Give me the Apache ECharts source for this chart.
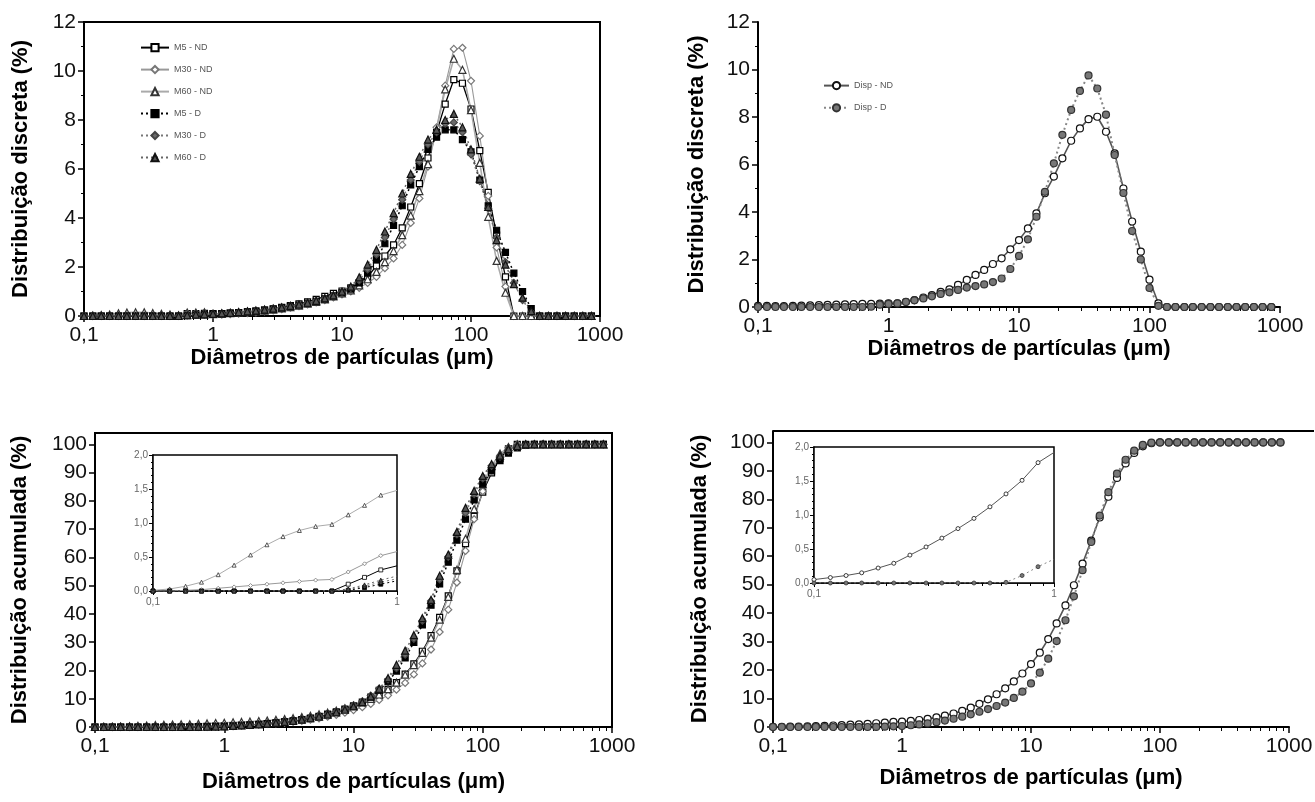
<!DOCTYPE html>
<html lang="pt">
<head>
<meta charset="utf-8">
<title>Distribuição granulométrica</title>
<script src="https://cdn.jsdelivr.net/npm/echarts@6.0.0/dist/echarts.min.js"></script>
<style>
  html, body { margin: 0; padding: 0; background: #fff; }
  #chart { width: 1315px; height: 802px; }
</style>
</head>
<body>
<div id="chart"></div>
<script>
// classes de diâmetro (µm), 15 por década
const diam = [
  0.1, 0.117, 0.136, 0.158, 0.185, 0.215, 0.251, 0.293, 0.341, 0.398,
  0.464, 0.541, 0.631, 0.736, 0.858, 1, 1.17, 1.36, 1.58, 1.85,
  2.15, 2.51, 2.93, 3.41, 3.98, 4.64, 5.41, 6.31, 7.36, 8.58,
  10, 11.7, 13.6, 15.8, 18.5, 21.5, 25.1, 29.3, 34.1, 39.8,
  46.4, 54.1, 63.1, 73.6, 85.8, 100, 117, 136, 158, 185,
  215, 251, 293, 341, 398, 464, 541, 631, 736, 858
];

// distribuição discreta (%) - amostras M
const m5nd = [
  0, 0, 0, 0, 0, 0, 0, 0, 0, 0,
  0, 0, 0.1, 0.1, 0.11, 0.10, 0.10, 0.12, 0.14, 0.17,
  0.2, 0.24, 0.29, 0.35, 0.42, 0.5, 0.58, 0.68, 0.8, 0.92,
  1.02, 1.15, 1.35, 1.6, 2.05, 2.45, 2.9, 3.6, 4.45, 5.4,
  6.45, 7.5, 8.65, 9.65, 9.5, 8.45, 6.75, 5.05, 3.3, 1.6,
  0, 0, 0, 0, 0, 0, 0, 0, 0, 0
];
const m30nd = [
  0, 0, 0.01, 0.01, 0.02, 0.02, 0.02, 0.02, 0.02, 0.02,
  0.02, 0.01, 0.11, 0.12, 0.12, 0.05, 0.06, 0.08, 0.1, 0.12,
  0.15, 0.19, 0.23, 0.28, 0.34, 0.4, 0.47, 0.55, 0.65, 0.76,
  0.88, 1.0, 1.15, 1.35, 1.6, 1.95, 2.35, 2.9, 3.8, 4.8,
  6.1, 7.7, 9.4, 10.9, 10.95, 9.6, 7.35, 4.9, 2.8, 1.2,
  0, 0, 0, 0, 0, 0, 0, 0, 0, 0
];
const m60nd = [
  0.01, 0.02, 0.04, 0.06, 0.11, 0.14, 0.15, 0.15, 0.12, 0.09,
  0.06, 0.03, 0.14, 0.14, 0.15, 0.08, 0.1, 0.12, 0.14, 0.16,
  0.19, 0.22, 0.26, 0.31, 0.36, 0.42, 0.5, 0.58, 0.68, 0.8,
  0.92, 1.05, 1.25, 1.5, 1.8, 2.2, 2.65, 3.3, 4.1, 5.1,
  6.2, 7.6, 9.25, 10.5, 10.05, 8.4, 6.25, 4.05, 2.25, 0.95,
  0, 0, 0, 0, 0, 0, 0, 0, 0, 0
];
const m5d = [
  0, 0, 0, 0, 0, 0, 0, 0, 0, 0,
  0, 0, 0.01, 0.04, 0.05, 0.08, 0.1, 0.12, 0.14, 0.17,
  0.2, 0.24, 0.28, 0.33, 0.39, 0.45, 0.52, 0.6, 0.7, 0.82,
  0.95, 1.1, 1.35, 1.75, 2.3, 2.95, 3.7, 4.5, 5.35, 6.1,
  6.8, 7.3, 7.6, 7.6, 7.2, 6.7, 5.55, 4.5, 3.5, 2.6,
  1.75, 1.0, 0.3, 0, 0, 0, 0, 0, 0, 0
];
const m30d = [
  0, 0, 0, 0, 0, 0, 0, 0, 0, 0,
  0, 0, 0.02, 0.05, 0.06, 0.08, 0.1, 0.12, 0.15, 0.18,
  0.21, 0.25, 0.3, 0.35, 0.41, 0.47, 0.54, 0.62, 0.72, 0.84,
  0.98, 1.15, 1.45, 1.9, 2.5, 3.2, 3.95, 4.75, 5.55, 6.3,
  7.0, 7.5, 7.85, 7.9, 7.5, 6.6, 5.5, 4.4, 3.2, 2.2,
  1.35, 0.65, 0.15, 0, 0, 0, 0, 0, 0, 0
];
const m60d = [
  0, 0, 0, 0, 0, 0, 0, 0, 0, 0,
  0, 0, 0.03, 0.06, 0.07, 0.09, 0.11, 0.13, 0.16, 0.19,
  0.22, 0.26, 0.3, 0.35, 0.41, 0.47, 0.54, 0.62, 0.72, 0.84,
  1.0, 1.2, 1.58, 2.1, 2.7, 3.45, 4.2, 5.0, 5.8, 6.5,
  7.2, 7.6, 8.0, 8.25, 7.7, 6.8, 5.6, 4.45, 3.1, 2.1,
  1.3, 0.75, 0.2, 0, 0, 0, 0, 0, 0, 0
];

// distribuição discreta (%) - Disp
const dispNd = [
  0.05, 0.05, 0.04, 0.04, 0.05, 0.06, 0.07, 0.08, 0.09, 0.1,
  0.11, 0.12, 0.13, 0.13, 0.14, 0.15, 0.15, 0.22, 0.29, 0.4,
  0.5, 0.64, 0.74, 0.93, 1.14, 1.35, 1.56, 1.81, 2.05, 2.43,
  2.82, 3.31, 3.94, 4.79, 5.49, 6.26, 7.0, 7.52, 7.91, 8.01,
  7.38, 6.47, 4.99, 3.6, 2.33, 1.15, 0.15, 0, 0, 0,
  0, 0, 0, 0, 0, 0, 0, 0, 0, 0
];
const dispD = [
  0, 0, 0, 0, 0, 0, 0, 0, 0, 0,
  0, 0, 0, 0.01, 0.1, 0.13, 0.15, 0.21, 0.28, 0.36,
  0.45, 0.55, 0.62, 0.72, 0.82, 0.88, 0.95, 1.05, 1.2, 1.6,
  2.15, 2.85, 3.8, 4.85, 6.05, 7.25, 8.3, 9.1, 9.75, 9.2,
  8.1, 6.4, 4.8, 3.2, 2.0, 0.8, 0.05, 0, 0, 0,
  0, 0, 0, 0, 0, 0, 0, 0, 0, 0
];

// distribuição acumulada (%) - amostras M
const m5ndAcc = [
  0, 0, 0, 0, 0, 0, 0, 0, 0, 0,
  0, 0, 0.1, 0.2, 0.31, 0.37, 0.52, 0.64, 0.78, 0.95,
  1.15, 1.4, 1.69, 2.04, 2.47, 2.98, 3.56, 4.25, 5.06, 5.99,
  7.02, 8.19, 9.56, 11.2, 13.3, 15.7, 18.7, 22.3, 26.8, 32.3,
  38.8, 46.4, 55.2, 64.9, 74.5, 83.1, 89.9, 95.0, 98.4, 100,
  100, 100, 100, 100, 100, 100, 100, 100, 100, 100
];
const m30ndAcc = [
  0, 0, 0.01, 0.02, 0.04, 0.06, 0.08, 0.1, 0.12, 0.14,
  0.16, 0.17, 0.28, 0.4, 0.52, 0.58, 0.65, 0.73, 0.83, 0.95,
  1.11, 1.3, 1.54, 1.82, 2.17, 2.58, 3.06, 3.63, 4.29, 5.07,
  5.97, 7.0, 8.17, 9.56, 11.2, 13.2, 15.6, 18.6, 22.5, 27.4,
  33.6, 41.5, 51.1, 62.3, 73.5, 83.4, 90.9, 95.9, 98.8, 100,
  100, 100, 100, 100, 100, 100, 100, 100, 100, 100
];
const m60ndAcc = [
  0.01, 0.03, 0.07, 0.13, 0.24, 0.38, 0.53, 0.68, 0.8, 0.89,
  0.95, 0.98, 1.12, 1.26, 1.41, 1.48, 1.66, 1.79, 1.93, 2.1,
  2.3, 2.53, 2.8, 3.12, 3.5, 3.94, 4.46, 5.07, 5.78, 6.61,
  7.58, 8.67, 9.98, 11.5, 13.4, 15.7, 18.5, 21.9, 26.2, 31.6,
  38.0, 46.0, 55.6, 66.6, 77.1, 85.9, 92.4, 96.7, 99.0, 100,
  100, 100, 100, 100, 100, 100, 100, 100, 100, 100
];
const m5dAcc = [
  0, 0, 0, 0, 0, 0, 0, 0, 0, 0,
  0, 0, 0.01, 0.05, 0.1, 0.15, 0.3, 0.45, 0.65, 0.88,
  1.18, 1.46, 1.8, 2.2, 2.66, 3.19, 3.81, 4.52, 5.36, 6.34,
  7.46, 8.84, 10.6, 13.0, 16.0, 19.8, 24.4, 29.9, 36.1, 43.1,
  50.6, 58.3, 66.1, 73.5, 80.3, 86.0, 90.6, 94.2, 96.9, 98.7,
  99.7, 100, 100, 100, 100, 100, 100, 100, 100, 100
];
const m30dAcc = [
  0, 0, 0, 0, 0, 0, 0, 0, 0, 0,
  0, 0, 0.02, 0.07, 0.13, 0.18, 0.33, 0.5, 0.7, 0.95,
  1.22, 1.52, 1.87, 2.28, 2.75, 3.29, 3.91, 4.63, 5.47, 6.5,
  7.7, 9.1, 11.1, 13.6, 16.8, 20.8, 25.6, 31.2, 37.6, 44.6,
  52.2, 60.2, 68.1, 75.7, 82.4, 87.9, 92.4, 95.6, 97.8, 99.2,
  99.8, 100, 100, 100, 100, 100, 100, 100, 100, 100
];
const m60dAcc = [
  0, 0, 0, 0, 0, 0, 0, 0, 0, 0,
  0, 0, 0.03, 0.09, 0.16, 0.22, 0.38, 0.54, 0.72, 0.92,
  1.17, 1.45, 1.78, 2.17, 2.6, 3.1, 3.7, 4.4, 5.2, 6.1,
  7.3, 8.8, 10.8, 13.5, 17.3, 22, 27, 32.5, 38.5, 45,
  53.5, 61, 69, 77.5, 83.5, 88.8, 93, 96, 98.3, 99.4,
  100, 100, 100, 100, 100, 100, 100, 100, 100, 100
];

// distribuição acumulada (%) - Disp
const dispNdAcc = [
  0.05, 0.08, 0.11, 0.15, 0.22, 0.29, 0.41, 0.53, 0.66, 0.8,
  0.95, 1.12, 1.31, 1.51, 1.77, 1.92, 2.17, 2.46, 2.86, 3.36,
  4.0, 4.74, 5.67, 6.81, 8.16, 9.72, 11.5, 13.6, 16.0, 18.8,
  22.1, 26.1, 30.9, 36.4, 42.7, 49.8, 57.4, 65.5, 73.6, 80.9,
  87.5, 92.6, 96.3, 98.6, 99.7, 100, 100, 100, 100, 100,
  100, 100, 100, 100, 100, 100, 100, 100, 100, 100
];
const dispDAcc = [
  0, 0, 0, 0, 0, 0, 0, 0, 0, 0,
  0, 0, 0.01, 0.11, 0.24, 0.35, 0.61, 0.89, 1.26, 1.71,
  2.27, 2.9, 3.63, 4.46, 5.35, 6.31, 7.37, 8.59, 10.2, 12.4,
  15.3, 19.1, 24.0, 30.2, 37.5, 45.9, 55.1, 65.0, 74.3, 82.5,
  89.0, 93.9, 97.1, 99.1, 99.9, 100, 100, 100, 100, 100,
  100, 100, 100, 100, 100, 100, 100, 100, 100, 100
];

// a inserção mostra só as classes de 0,1 a 1 µm
const nInset = 16;

const FONT = '"Liberation Sans", Arial, Helvetica, sans-serif';
const nomeX = 'Diâmetros de partículas (μm)';

const estilos = {
  'M5 - ND':   { symbol: 'rect',     size: 6, fill: '#fff', stroke: '#000', line: '#000', width: 1.3, type: 'solid' },
  'M30 - ND':  { symbol: 'diamond',  size: 7, fill: '#fff', stroke: '#777', line: '#999', width: 1.1, type: 'solid' },
  'M60 - ND':  { symbol: 'triangle', size: 7, fill: '#fff', stroke: '#333', line: '#aaa', width: 1.6, type: 'solid' },
  'M5 - D':    { symbol: 'rect',     size: 6, fill: '#000', stroke: '#000', line: '#000', width: 1.5, type: [2, 3] },
  'M30 - D':   { symbol: 'diamond',  size: 7, fill: '#6a6a6a', stroke: '#444', line: '#777', width: 1.5, type: [2, 3] },
  'M60 - D':   { symbol: 'triangle', size: 7, fill: '#555', stroke: '#111', line: '#666', width: 1.5, type: [2, 3] },
  'Disp - ND': { symbol: 'circle',   size: 7, fill: '#fff', stroke: '#111', line: '#555', width: 1.6, type: 'solid' },
  'Disp - D':  { symbol: 'circle',   size: 7, fill: '#777', stroke: '#333', line: '#888', width: 2, type: [2, 3] }
};

function linha(nome, valores, eixo, inset) {
  const s = estilos[nome];
  const n = inset ? nInset : diam.length;
  const data = [];
  for (let i = 0; i < n; i++) {
    const p = { value: [diam[i], valores[i]] };
    if (inset && i === n - 1) p.symbol = 'none';
    data.push(p);
  }
  return {
    type: 'line', name: nome, xAxisIndex: eixo, yAxisIndex: eixo,
    data: data,
    symbol: s.symbol,
    symbolSize: inset ? Math.round(s.size * 0.6) : s.size,
    showAllSymbol: true,
    itemStyle: { color: s.fill, borderColor: s.stroke, borderWidth: inset ? 0.8 : 1.2 },
    lineStyle: { color: s.line, width: inset ? 1 : s.width, type: s.type },
    emphasis: { disabled: true },
    z: inset ? 6 : 3,
    animation: false
  };
}

const fmtLog = v => String(+(+v).toFixed(3)).replace('.', ',');
const fmtDec = v => (+v).toFixed(1).replace('.', ',');

function eixoX(g, nameGap) {
  return {
    type: 'log', logBase: 10, gridIndex: g, min: 0.1, max: 1000,
    name: nomeX, nameLocation: 'middle', nameGap: nameGap,
    nameTextStyle: { fontFamily: FONT, fontSize: 22, fontWeight: 'bold', color: '#000' },
    axisLine: { onZero: false, lineStyle: { color: '#000', width: 2 } },
    axisTick: { length: 6, lineStyle: { color: '#000', width: 1.5 } },
    minorTick: { show: true, splitNumber: 9, length: 4, lineStyle: { color: '#000', width: 1 } },
    axisLabel: { fontFamily: FONT, fontSize: 21, color: '#111', margin: 9, formatter: fmtLog },
    splitLine: { show: false }
  };
}

function eixoY(g, nome, max, interval, nameGap, minor) {
  return {
    type: 'value', gridIndex: g, min: 0, max: max, interval: interval,
    name: nome, nameLocation: 'middle', nameGap: nameGap,
    nameTextStyle: { fontFamily: FONT, fontSize: 22, fontWeight: 'bold', color: '#000' },
    axisLine: { show: true, onZero: false, lineStyle: { color: '#000', width: 2 } },
    axisTick: { show: true, length: 6, lineStyle: { color: '#000', width: 1.5 } },
    minorTick: { show: minor > 0, splitNumber: minor || 2, length: 3, lineStyle: { color: '#000', width: 1 } },
    axisLabel: { fontFamily: FONT, fontSize: 21, color: '#111', margin: 8, showMaxLabel: max % interval === 0 },
    splitLine: { show: false }
  };
}

function insetX(g) {
  return {
    type: 'log', logBase: 10, gridIndex: g, min: 0.1, max: 1,
    axisLine: { onZero: false, lineStyle: { color: '#000', width: 1.5 } },
    axisTick: { length: 4, lineStyle: { color: '#000', width: 1 } },
    minorTick: { show: true, splitNumber: 9, length: 3, lineStyle: { color: '#000', width: 1 } },
    axisLabel: { fontFamily: FONT, fontSize: 10, color: '#666', margin: 6, formatter: fmtLog },
    splitLine: { show: false }
  };
}

function insetY(g) {
  return {
    type: 'value', gridIndex: g, min: 0, max: 2, interval: 0.5,
    axisLine: { show: true, onZero: false, lineStyle: { color: '#000', width: 1.5 } },
    axisTick: { show: true, length: 4, lineStyle: { color: '#000', width: 1 } },
    minorTick: { show: true, splitNumber: 5, length: 2, lineStyle: { color: '#000', width: 1 } },
    axisLabel: { fontFamily: FONT, fontSize: 10, color: '#666', margin: 5, formatter: fmtDec },
    splitLine: { show: false }
  };
}

const moldura = { show: true, borderColor: '#000', borderWidth: 2, backgroundColor: 'transparent' };

const option = {
  backgroundColor: '#fff',
  animation: false,
  textStyle: { fontFamily: FONT },
  grid: [
    Object.assign({ left: 84, top: 22, width: 516, height: 294, outerBoundsMode: 'none' }, moldura),
    { left: 758, top: 22, width: 522, height: 285, outerBoundsMode: 'none', show: false },
    Object.assign({ left: 95, top: 433, width: 517, height: 294, outerBoundsMode: 'none' }, moldura),
    { left: 773, top: 431, width: 516, height: 296, outerBoundsMode: 'none', show: false },
    { left: 153, top: 455, width: 244, height: 136, outerBoundsMode: 'none', show: true, borderColor: '#000', borderWidth: 1.5, backgroundColor: '#fff', z: 4 },
    { left: 814, top: 447, width: 240, height: 136, outerBoundsMode: 'none', show: true, borderColor: '#000', borderWidth: 1.5, backgroundColor: '#fff', z: 4 }
  ],
  xAxis: [eixoX(0, 26), eixoX(1, 24), eixoX(2, 44), eixoX(3, 40), insetX(4), insetX(5)],
  yAxis: [
    eixoY(0, 'Distribuição discreta (%)', 12, 2, 52, 2),
    eixoY(1, 'Distribuição discreta (%)', 12, 2, 50, 2),
    eixoY(2, 'Distribuição acumulada (%)', 104, 10, 64, 0),
    eixoY(3, 'Distribuição acumulada (%)', 104, 10, 62, 0),
    insetY(4),
    insetY(5)
  ],
  legend: [
    {
      data: ['M5 - ND', 'M30 - ND', 'M60 - ND', 'M5 - D', 'M30 - D', 'M60 - D'],
      orient: 'vertical', left: 135, top: 38, itemWidth: 28, itemHeight: 9, itemGap: 12.8,
      selectedMode: false,
      textStyle: { fontFamily: FONT, fontSize: 9, color: '#555' }
    },
    {
      data: ['Disp - ND', 'Disp - D'],
      orient: 'vertical', left: 818, top: 76, itemWidth: 25, itemHeight: 9, itemGap: 13,
      selectedMode: false,
      textStyle: { fontFamily: FONT, fontSize: 9, color: '#555' }
    }
  ],
  graphic: [
    // borda superior do quadro acumulado da direita
    { type: 'line', shape: { x1: 773, y1: 431, x2: 1314, y2: 431 }, style: { stroke: '#000', lineWidth: 2 }, z: 10 }
  ],
  series: [
    linha('M5 - ND', m5nd, 0), linha('M30 - ND', m30nd, 0), linha('M60 - ND', m60nd, 0),
    linha('M5 - D', m5d, 0), linha('M30 - D', m30d, 0), linha('M60 - D', m60d, 0),

    linha('Disp - ND', dispNd, 1), linha('Disp - D', dispD, 1),

    linha('M5 - ND', m5ndAcc, 2), linha('M30 - ND', m30ndAcc, 2), linha('M60 - ND', m60ndAcc, 2),
    linha('M5 - D', m5dAcc, 2), linha('M30 - D', m30dAcc, 2), linha('M60 - D', m60dAcc, 2),

    linha('Disp - ND', dispNdAcc, 3), linha('Disp - D', dispDAcc, 3),

    linha('M5 - ND', m5ndAcc, 4, true), linha('M30 - ND', m30ndAcc, 4, true), linha('M60 - ND', m60ndAcc, 4, true),
    linha('M5 - D', m5dAcc, 4, true), linha('M30 - D', m30dAcc, 4, true), linha('M60 - D', m60dAcc, 4, true),

    linha('Disp - ND', dispNdAcc, 5, true), linha('Disp - D', dispDAcc, 5, true)
  ]
};

const chart = echarts.init(document.getElementById('chart'));
chart.setOption(option);
</script>
</body>
</html>
